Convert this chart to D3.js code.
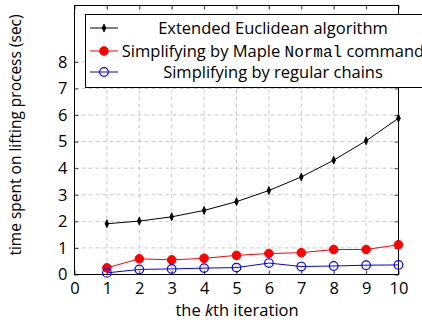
<!DOCTYPE html>
<html><head><meta charset="utf-8">
<script src="https://cdn.jsdelivr.net/npm/d3@7"></script>
<style>body{margin:0;background:#fff}svg{display:block}text{font-family:"Open Sans","DejaVu Sans",sans-serif}</style>
</head><body><svg id="c" width="422" height="320"></svg>
<script>
const iterations = [1,2,3,4,5,6,7,8,9,10];
const euclid = [1.91,2.01,2.17,2.41,2.74,3.16,3.67,4.30,5.03,5.88];
const mapleNormal = [0.25,0.59,0.55,0.61,0.72,0.79,0.82,0.94,0.94,1.12];
const regularChains = [0.06,0.19,0.21,0.24,0.26,0.43,0.30,0.32,0.35,0.36];
const xTicks = [0,1,2,3,4,5,6,7,8,9,10];
const yTicks = [0,1,2,3,4,5,6,7,8];
const seriesNames = ["Extended Euclidean algorithm","Simplifying by Maple Normal command","Simplifying by regular chains"];

const svg = d3.select("#c");
const L=74.5, R=398.5, T=5.5, B=274.5;
const x = d3.scaleLinear().domain([0,10]).range([L,R]);
const y = d3.scaleLinear().domain([0,10.12]).range([B,T]);

// grid
const g = svg.append("g");
g.selectAll(".vg").data(xTicks.filter(d=>d>0&&d<10)).enter().append("line")
 .attr("x1",d=>x(d)).attr("x2",d=>x(d)).attr("y1",T).attr("y2",B)
 .attr("stroke","#bbb").attr("stroke-dasharray","4,3").attr("stroke-width",0.8);
g.selectAll(".hg").data(yTicks.filter(d=>d>0)).enter().append("line")
 .attr("x1",L).attr("x2",R).attr("y1",d=>y(d)).attr("y2",d=>y(d))
 .attr("stroke","#bbb").attr("stroke-dasharray","4,3").attr("stroke-width",0.8);

// axes
const ax = svg.append("g");
ax.append("g").attr("transform",`translate(0,${B})`).call(d3.axisBottom(x).tickValues(xTicks).tickSize(-4).tickPadding(8))
 .call(s=>{s.select(".domain").remove();s.selectAll("text").attr("font-size",16.5).attr("fill","#000");s.selectAll("line").attr("stroke","#444");});
ax.append("g").attr("transform",`translate(0,${T})`).call(d3.axisTop(x).tickValues(xTicks).tickSize(-4).tickFormat(""))
 .call(s=>{s.select(".domain").remove();s.selectAll("line").attr("stroke","#444");});
ax.append("g").attr("transform",`translate(${L},0)`).call(d3.axisLeft(y).tickValues(yTicks).tickSize(-4).tickPadding(7))
 .call(s=>{s.select(".domain").remove();s.selectAll("text").attr("font-size",16.5).attr("fill","#000");s.selectAll("line").attr("stroke","#444");});
ax.append("g").attr("transform",`translate(${R},0)`).call(d3.axisRight(y).tickValues(yTicks).tickSize(-4).tickFormat(""))
 .call(s=>{s.select(".domain").remove();s.selectAll("line").attr("stroke","#444");});
svg.append("rect").attr("x",L).attr("y",T).attr("width",R-L).attr("height",B-T)
 .attr("fill","none").attr("stroke","#000").attr("stroke-width",1);

const line = d3.line().x(d=>x(d[0])).y(d=>y(d[1]));
const sets = [
 {vals:euclid,color:"#000",marker:"diamond"},
 {vals:mapleNormal,color:"#ff0000",marker:"dot"},
 {vals:regularChains,color:"#0000ff",marker:"circle"}
];
function drawMarker(sel,m,color){
  if(m==="diamond"){
    sel.append("path").attr("d",d3.symbol(d3.symbolDiamond,14)()).attr("transform","scale(0.9,1.15)").attr("fill",color).attr("stroke",color).attr("stroke-width",0.8);
  } else if(m==="dot"){
    sel.append("circle").attr("r",4.3).attr("fill",color).attr("stroke",color);
  } else {
    sel.append("circle").attr("r",4.3).attr("fill","none").attr("stroke",color).attr("stroke-width",1.2);
  }
}
sets.forEach(s=>{
  const pts = iterations.map((k,i)=>[k,s.vals[i]]);
  svg.append("path").attr("d",line(pts)).attr("fill","none").attr("stroke",s.color).attr("stroke-width",1);
  pts.forEach(p=>{
    const gm = svg.append("g").attr("transform",`translate(${x(p[0])},${y(p[1])})`);
    drawMarker(gm,s.marker,s.color);
  });
});

// legend
const lg = svg.append("g");
lg.append("rect").attr("x",85.5).attr("y",14.5).attr("width",360).attr("height",73)
 .attr("fill","#fff").attr("stroke","#000");
const rowsY=[28,51,72];
sets.forEach((s,i)=>{
  const ry=rowsY[i];
  lg.append("line").attr("x1",90).attr("x2",118).attr("y1",ry).attr("y2",ry).attr("stroke",s.color);
  const gm=lg.append("g").attr("transform",`translate(104,${ry})`);
  drawMarker(gm,s.marker,s.color);
  const t=lg.append("text").attr("x",273).attr("y",ry+5.5).attr("text-anchor","middle").attr("font-size",16.5);
  if(i===1){
    const parts=seriesNames[1].split("Normal");
    t.append("tspan").text(parts[0]);
    t.append("tspan").attr("font-family","'Liberation Mono','DejaVu Sans Mono',monospace").attr("font-size",16).text("Normal");
    t.append("tspan").text(parts[1]);
  } else t.text(seriesNames[i]);
});

// axis labels
const xl = svg.append("text").attr("x",237).attr("y",316).attr("text-anchor","middle").attr("font-size",16.5);
xl.append("tspan").text("the ");
xl.append("tspan").attr("font-style","italic").text("k");
xl.append("tspan").text("th iteration");
svg.append("text").attr("transform","translate(21,135) rotate(-90)").attr("text-anchor","middle").attr("font-size",15.5)
 .text("time spent on lifting process (sec)");
</script></body></html>
